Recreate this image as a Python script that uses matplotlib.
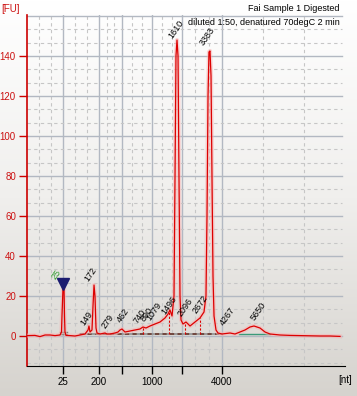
import numpy as np
import matplotlib.pyplot as plt
from matplotlib.colors import LinearSegmentedColormap

plt.rcParams['font.family'] = ['Liberation Sans', 'DejaVu Sans']

# migration time (s) and fluorescence (FU)
time = [19.0, 20.33, 21.17, 22.0, 22.83, 23.67, 24.5, 24.75, 24.83, 25.0, 25.17,
        25.25, 25.33, 25.5, 26.17, 27.0, 27.83, 28.67, 29.17, 29.33, 29.5, 29.83,
        30.0, 30.17, 30.33, 30.5, 30.67, 31.17, 32.0, 32.33, 32.83, 33.67, 34.17,
        34.5, 34.83, 35.33, 36.17, 37.0, 37.83, 38.33, 38.83, 39.5, 40.33, 41.17,
        42.0, 42.5, 42.83, 43.17, 43.5, 43.67, 43.83, 44.0, 44.17, 44.33, 44.5,
        44.67, 45.0, 45.5, 46.17, 47.0, 47.83, 48.5, 48.83, 49.0, 49.17, 49.33,
        49.5, 49.67, 49.83, 50.0, 50.17, 50.5, 50.83, 51.5, 52.83, 53.67, 54.5,
        55.33, 56.17, 56.83, 57.83, 58.67, 59.5, 61.17, 62.83, 64.5, 66.17, 67.83,
        69.5, 71.17]
fu = [0.2, 0.3, -0.3, 0.5, 0.5, 0.2, 0.5, 2, 10, 24, 24,
      10, 2, 0.3, 0.2, 0, 0.5, 1, 3, 5, 2, 3,
      15, 25.5, 20, 4, 1.5, 1, 1.5, 1, 1, 1.5, 2,
      3, 3.5, 2, 2.5, 3, 3.5, 4.5, 4, 5, 6, 7,
      9, 11, 13, 10, 20, 80, 140, 148, 140, 80, 20,
      8, 6, 7, 5, 7, 9, 12, 20, 60, 120, 142,
      142.5, 130, 80, 30, 10, 3, 1.5, 1, 1.5, 1, 2,
      3, 4.5, 5, 4, 2, 1, 0.5, 0.3, 0.2, 0.1, 0,
      0, -0.2]

# ladder positions on the time axis
ladder_time = [25.0, 31.0, 34.83, 39.83, 44.83, 51.5]
ladder_labels = ['25', '200', '', '1000', '', '4000']
minor_time = [21.0, 23.0, 27.0, 29.0, 32.28, 33.56, 36.5, 38.17, 41.5, 43.17,
              47.06, 49.28, 58.33, 65.17]

# peak labels: text, time, FU
peak_names = ['149', '172', '279', '462', '740', '890', '1079', '1496',
              '1610', '2096', '2672', '3383', '4267', '5650']
peak_time = [28.83, 29.5, 32.33, 34.83, 37.67, 38.83, 39.83, 42.33,
             43.5, 45.0, 47.5, 48.67, 52.0, 57.17]
peak_fu = [4.5, 26.5, 3, 6, 5.5, 6.5, 7, 10,
           148, 9, 10.5, 144.5, 4.5, 7]
drop_time = [38.33, 42.67, 45.33, 47.83]
drop_fu = [4.5, 12, 7, 9]

fig = plt.figure(figsize=(3.57, 3.96), dpi=100)

# background gradient
bg = fig.add_axes([0, 0, 1, 1], zorder=-10)
grad = np.linspace(0, 1, 256).reshape(-1, 1)
cmap = LinearSegmentedColormap.from_list('bg', ['#ffffff', '#f0efed', '#d6d3ce'])
bg.imshow(grad, aspect='auto', cmap=cmap, extent=[0, 1, 0, 1])
bg.axis('off')

ax = fig.add_axes([27 / 357, 30 / 396, 318 / 357, 351 / 396])
ax.set_facecolor('none')
ax.set_xlim(19, 72)
ax.set_ylim(-15, 160.5)

# grid
for t in ladder_time:
    ax.axvline(t, color='#b2b8c2', lw=1, zorder=1)
for t in minor_time:
    ax.axvline(t, color='#c6c6c6', lw=0.8, ls=(0, (3, 3)), zorder=1)
for y in range(0, 161, 20):
    ax.axhline(y, xmax=0.99, color='#b2b8c2', lw=1, zorder=1)
for y in np.arange(-40 / 3, 160, 20 / 3):
    if abs(y - round(y / 20) * 20) > 1:
        ax.axhline(y, xmax=0.99, color='#c6c6c6', lw=0.8, ls=(0, (3, 3)), zorder=1)

# baselines
ax.plot([27.83, 51.5], [0.8, 0.8], color='#909090', lw=1.2, zorder=2)
ax.plot([27.83, 51.5], [0.8, 0.8], color='#6a3a30', lw=1.2, ls=(0, (2.5, 2)), zorder=2)
ax.plot([54.33, 59.5], [1.2, 1.2], color='#3a9a7a', lw=1, zorder=2)
ax.plot([24.5, 25.67], [2, 2], color='#707a70', lw=1, zorder=2)
ax.plot([24.5, 25.67], [1, 1], color='#707a70', lw=1, zorder=2)

# trace
ax.plot(time, fu, color='#f7b4b4', lw=3, alpha=0.55, zorder=3)
ax.plot(time, fu, color='#dd0000', lw=0.9, zorder=4)
for t, h in zip(drop_time, drop_fu):
    ax.plot([t, t], [0.8, h], color='#dd0000', lw=0.8, ls=(0, (2, 1.5)), zorder=4)

# marker
ax.plot([25.0], [26], marker='v', color='#1c1c70', markersize=8, zorder=5)
ax.text(24.0, 27.5, '25', color='#2a9a2a', fontsize=6.5, rotation=55,
        rotation_mode='anchor', ha='left', va='bottom', zorder=6)

for name, t, h in zip(peak_names, peak_time, peak_fu):
    ax.text(t, h, name, color='black', fontsize=6.5, rotation=55,
            rotation_mode='anchor', ha='left', va='bottom', zorder=6)

# axes styling
for s in ['top', 'right']:
    ax.spines[s].set_visible(False)
ax.spines['left'].set_color('#cc0000')
ax.spines['left'].set_linewidth(1.2)
ax.spines['bottom'].set_color('black')
ax.set_yticks(range(0, 141, 20))
ax.tick_params(axis='y', colors='#cc0000', labelcolor='#cc1111', labelsize=7,
               length=6, width=1, pad=2)
ax.set_xticks(ladder_time)
ax.set_xticklabels(ladder_labels)
ax.tick_params(axis='x', colors='black', labelsize=7, length=6, width=1, pad=2)

fig.text(1 / 357, 1 - 12 / 396, '[FU]', color='#cc1111', fontsize=7)
fig.text(338 / 357, 1 - 383 / 396, '[nt]', color='black', fontsize=7)
fig.text(340 / 357, 1 - 11 / 396, 'Fai Sample 1 Digested', color='black',
         fontsize=6.5, ha='right')
fig.text(340 / 357, 1 - 25 / 396, 'diluted 1:50, denatured 70degC 2 min',
         color='black', fontsize=6.5, ha='right', zorder=10)

fig.savefig('out.png', dpi=100)
